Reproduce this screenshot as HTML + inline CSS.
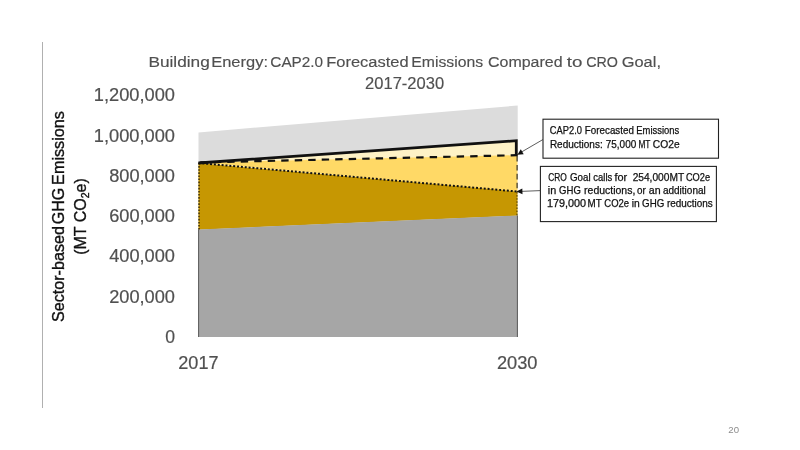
<!DOCTYPE html>
<html><head><meta charset="utf-8"><title>Building Energy</title>
<style>
html,body{margin:0;padding:0;background:#fff;}
body{width:800px;height:450px;overflow:hidden;}
svg{display:block;font-family:"Liberation Sans",sans-serif;}
</style></head><body>
<svg width="800" height="450" viewBox="0 0 800 450">
<rect width="800" height="450" fill="#ffffff"/>
<!-- left rule -->
<rect x="42" y="42" width="1" height="366" fill="#b0b0b0"/>
<!-- areas -->
<polygon points="198.5,132.4 517.7,105.5 517.7,141 198.5,163" fill="#dcdcdc"/>
<polygon points="198.5,162.7 517.5,140.3 517.5,156 " fill="#fef2c6"/>
<polygon points="198.5,162.5 517.5,155.2 517.5,191.7" fill="#ffd966"/>
<polygon points="198.5,163 517.5,191.5 517.5,215.7 198.5,229.7" fill="#c69702"/>
<polygon points="198.5,229.5 517.7,215.5 517.7,337 198.5,337" fill="#a6a6a6"/>
<!-- edges -->
<line x1="198.6" y1="229.5" x2="198.6" y2="337" stroke="#595959" stroke-width="1"/>
<line x1="517.4" y1="215.5" x2="517.4" y2="337" stroke="#595959" stroke-width="1"/>
<!-- dotted -->
<line x1="198.5" y1="163" x2="517.3" y2="191.5" stroke="#111" stroke-width="2" stroke-dasharray="1.95 1.92"/>
<line x1="199" y1="163" x2="199" y2="229.5" stroke="#1a1200" stroke-width="1.2" stroke-dasharray="1.6 1.5"/>
<line x1="517" y1="192" x2="517" y2="215.5" stroke="#2a1e00" stroke-width="1" stroke-dasharray="1.5 1.6" stroke-opacity="0.85"/>
<!-- dashed -->
<polyline points="198.5,162.5 517.5,155.2" fill="none" stroke="#111" stroke-width="2.2" stroke-dasharray="7.4 6.1" stroke-dashoffset="-1.75"/>
<line x1="517.1" y1="156" x2="517.1" y2="190.7" stroke="#222" stroke-width="1.1" stroke-dasharray="5.6 3.3"/>
<!-- solid -->
<polyline points="198.5,163 516.3,140.7 516.3,155.8" fill="none" stroke="#111" stroke-width="2.8" stroke-linejoin="miter"/>
<!-- callouts -->
<rect x="543" y="119.2" width="175.5" height="39" fill="#fff" stroke="#222" stroke-width="1.1"/>
<rect x="540.4" y="166.4" width="176" height="55.2" fill="#fff" stroke="#222" stroke-width="1.1"/>
<line x1="543" y1="139.5" x2="521" y2="152.3" stroke="#333" stroke-width="0.8"/>
<polygon points="517.4,154.7 520.8,149.3 523.7,154.3" fill="#111"/>
<line x1="540.4" y1="190.6" x2="521" y2="191.4" stroke="#333" stroke-width="0.8"/>
<polygon points="516.4,191.5 522.3,188.5 522.5,194.3" fill="#111"/>
<g font-size="10.3" fill="#111" stroke="#111" stroke-width="0.25">
<text x="549.87" y="134.0" textLength="32.12" lengthAdjust="spacingAndGlyphs">CAP2.0</text>
<text x="584.86" y="134.0" textLength="48.99" lengthAdjust="spacingAndGlyphs">Forecasted</text>
<text x="636.27" y="134.0" textLength="42.88" lengthAdjust="spacingAndGlyphs">Emissions</text>
<text x="549.90" y="147.6" textLength="52.84" lengthAdjust="spacingAndGlyphs">Reductions:</text>
<text x="605.78" y="147.6" textLength="30.47" lengthAdjust="spacingAndGlyphs">75,000</text>
<text x="638.43" y="147.6" textLength="12.04" lengthAdjust="spacingAndGlyphs">MT</text>
<text x="652.86" y="147.6" textLength="26.80" lengthAdjust="spacingAndGlyphs">CO2e</text>
<text x="548.23" y="181.1" textLength="18.62" lengthAdjust="spacingAndGlyphs">CRO</text>
<text x="569.98" y="181.1" textLength="20.64" lengthAdjust="spacingAndGlyphs">Goal</text>
<text x="593.37" y="181.1" textLength="18.84" lengthAdjust="spacingAndGlyphs">calls</text>
<text x="614.47" y="181.1" textLength="12.75" lengthAdjust="spacingAndGlyphs">for</text>
<text x="632.64" y="181.1" textLength="51.54" lengthAdjust="spacingAndGlyphs">254,000MT</text>
<text x="685.88" y="181.1" textLength="24.18" lengthAdjust="spacingAndGlyphs">CO2e</text>
<text x="547.87" y="194.2" textLength="8.43" lengthAdjust="spacingAndGlyphs">in</text>
<text x="559.09" y="194.2" textLength="21.79" lengthAdjust="spacingAndGlyphs">GHG</text>
<text x="584.08" y="194.2" textLength="51.22" lengthAdjust="spacingAndGlyphs">reductions,</text>
<text x="637.12" y="194.2" textLength="8.75" lengthAdjust="spacingAndGlyphs">or</text>
<text x="648.86" y="194.2" textLength="11.78" lengthAdjust="spacingAndGlyphs">an</text>
<text x="662.91" y="194.2" textLength="42.84" lengthAdjust="spacingAndGlyphs">additional</text>
<text x="546.98" y="207.4" textLength="39.12" lengthAdjust="spacingAndGlyphs">179,000</text>
<text x="587.58" y="207.4" textLength="14.19" lengthAdjust="spacingAndGlyphs">MT</text>
<text x="604.35" y="207.4" textLength="24.76" lengthAdjust="spacingAndGlyphs">CO2e</text>
<text x="631.78" y="207.4" textLength="8.00" lengthAdjust="spacingAndGlyphs">in</text>
<text x="642.08" y="207.4" textLength="22.20" lengthAdjust="spacingAndGlyphs">GHG</text>
<text x="667.00" y="207.4" textLength="45.82" lengthAdjust="spacingAndGlyphs">reductions</text>
</g>
<!-- title -->
<g fill="#505050" stroke="#505050" stroke-width="0.15">
<g font-size="15.4">
<text x="148.40" y="66.8" textLength="61.40" lengthAdjust="spacingAndGlyphs">Building</text>
<text x="211.23" y="66.8" textLength="56.75" lengthAdjust="spacingAndGlyphs">Energy:</text>
<text x="270.36" y="66.8" textLength="52.76" lengthAdjust="spacingAndGlyphs">CAP2.0</text>
<text x="326.18" y="66.8" textLength="82.44" lengthAdjust="spacingAndGlyphs">Forecasted</text>
<text x="411.26" y="66.8" textLength="71.85" lengthAdjust="spacingAndGlyphs">Emissions</text>
<text x="487.98" y="66.8" textLength="74.56" lengthAdjust="spacingAndGlyphs">Compared</text>
<text x="566.72" y="66.8" textLength="15.65" lengthAdjust="spacingAndGlyphs">to</text>
<text x="586.18" y="66.8" textLength="31.77" lengthAdjust="spacingAndGlyphs">CRO</text>
<text x="621.72" y="66.8" textLength="39.26" lengthAdjust="spacingAndGlyphs">Goal,</text>
</g>
<text x="365.1" y="88.6" font-size="15.6" textLength="79" lengthAdjust="spacingAndGlyphs">2017-2030</text>
</g>
<!-- y labels -->
<g font-size="17.6" fill="#505050" stroke="#505050" stroke-width="0.2">
<text x="93.8" y="101.3" textLength="81.2" lengthAdjust="spacingAndGlyphs">1,200,000</text>
<text x="93.8" y="141.6" textLength="81.2" lengthAdjust="spacingAndGlyphs">1,000,000</text>
<text x="109.2" y="181.9" textLength="65.8" lengthAdjust="spacingAndGlyphs">800,000</text>
<text x="109.2" y="222.1" textLength="65.8" lengthAdjust="spacingAndGlyphs">600,000</text>
<text x="109.2" y="262.4" textLength="65.8" lengthAdjust="spacingAndGlyphs">400,000</text>
<text x="109.2" y="302.7" textLength="65.8" lengthAdjust="spacingAndGlyphs">200,000</text>
<text x="175" y="342.8" text-anchor="end">0</text>
</g>
<g font-size="17.6" fill="#505050" stroke="#505050" stroke-width="0.2">
<text x="178.3" y="368.8" textLength="40.2" lengthAdjust="spacingAndGlyphs">2017</text>
<text x="496.9" y="368.8" textLength="40.6" lengthAdjust="spacingAndGlyphs">2030</text>
</g>
<!-- y axis title -->
<g font-size="16" fill="#111" stroke="#111" stroke-width="0.35" transform="translate(64.3,216.5) rotate(-90)">
<text x="-105.6" y="0" textLength="96" lengthAdjust="spacingAndGlyphs">Sector-based</text>
<text x="-7.8" y="0" textLength="36.4" lengthAdjust="spacingAndGlyphs">GHG</text>
<text x="31.6" y="0" textLength="73.8" lengthAdjust="spacingAndGlyphs">Emissions</text>
<text x="0" y="22.1" text-anchor="middle">(MT CO<tspan font-size="10.5" dy="3">2</tspan><tspan dy="-3">e)</tspan></text>
</g>
<text x="733.7" y="433" font-size="9.6" fill="#8c8c8c" text-anchor="middle">20</text>
</svg>
</body></html>
